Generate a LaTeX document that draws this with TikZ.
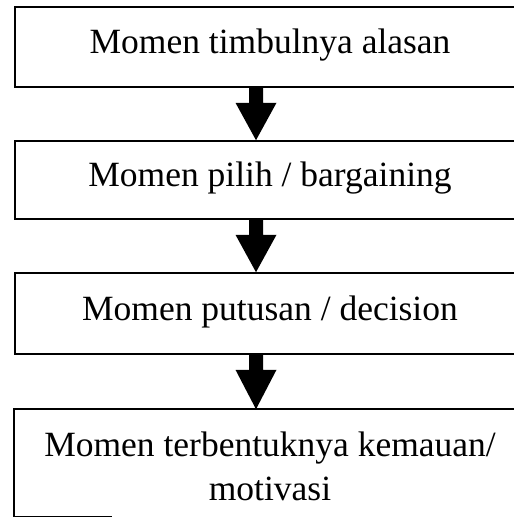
\documentclass[tikz,border=0pt]{standalone}
\usepackage{fontspec}
\setmainfont{Liberation Serif}
\usetikzlibrary{calc}
\tikzset{
  boxline/.style={line width=1.6pt, line join=miter},
  stage/.style={boxline, draw, rectangle, inner sep=0pt, minimum width=510pt,
    align=center, text height=24.5pt, text depth=11.5pt,
    font=\fontsize{35.5}{44}\selectfont},
  blockarrow/.style={fill=black, draw=none}
}
\newcommand{\blockarr}[2]{%
  \fill[blockarrow] ($(#1)+(-7,0)$) -- ($(#1)+(7,0)$) -- ($(#1)+(7,15)$)
    -- ($(#1)+(20.5,15)$) -- (#2) -- ($(#1)+(-20.5,15)$) -- ($(#1)+(-7,15)$) -- cycle;}
\begin{document}
\begin{tikzpicture}[x=1pt,y=-1pt]
\useasboundingbox (0,0) rectangle (514,517);
\clip (0,0) rectangle (514,517);
\node[stage, minimum height=80pt] (b1) at (270,47) {Momen timbulnya alasan};
\node[stage, minimum height=78pt] (b2) at (270,180) {Momen pilih / bargaining};
\node[stage, minimum height=81pt] (b3) at (270,313.5) {Momen putusan / decision};
\node[stage, draw=none, minimum height=106pt, text height=74pt, text depth=0pt] (b4) at (270,463)
  {Momen terbentuknya kemauan/\\motivasi};
\draw[boxline] (b4.north east) -- (b4.north west) -- (b4.south west) -- ($(b4.south west)+(98,0)$);
\coordinate (ax) at (256,0);
\coordinate (a1s) at (b1.south -| ax);
\coordinate (a1e) at (b2.north -| ax);
\coordinate (a2s) at (b2.south -| ax);
\coordinate (a2e) at (b3.north -| ax);
\coordinate (a3s) at (b3.south -| ax);
\coordinate (a3e) at (b4.north -| ax);
\blockarr{a1s}{a1e}
\blockarr{a2s}{a2e}
\blockarr{a3s}{a3e}
\end{tikzpicture}
\end{document}
